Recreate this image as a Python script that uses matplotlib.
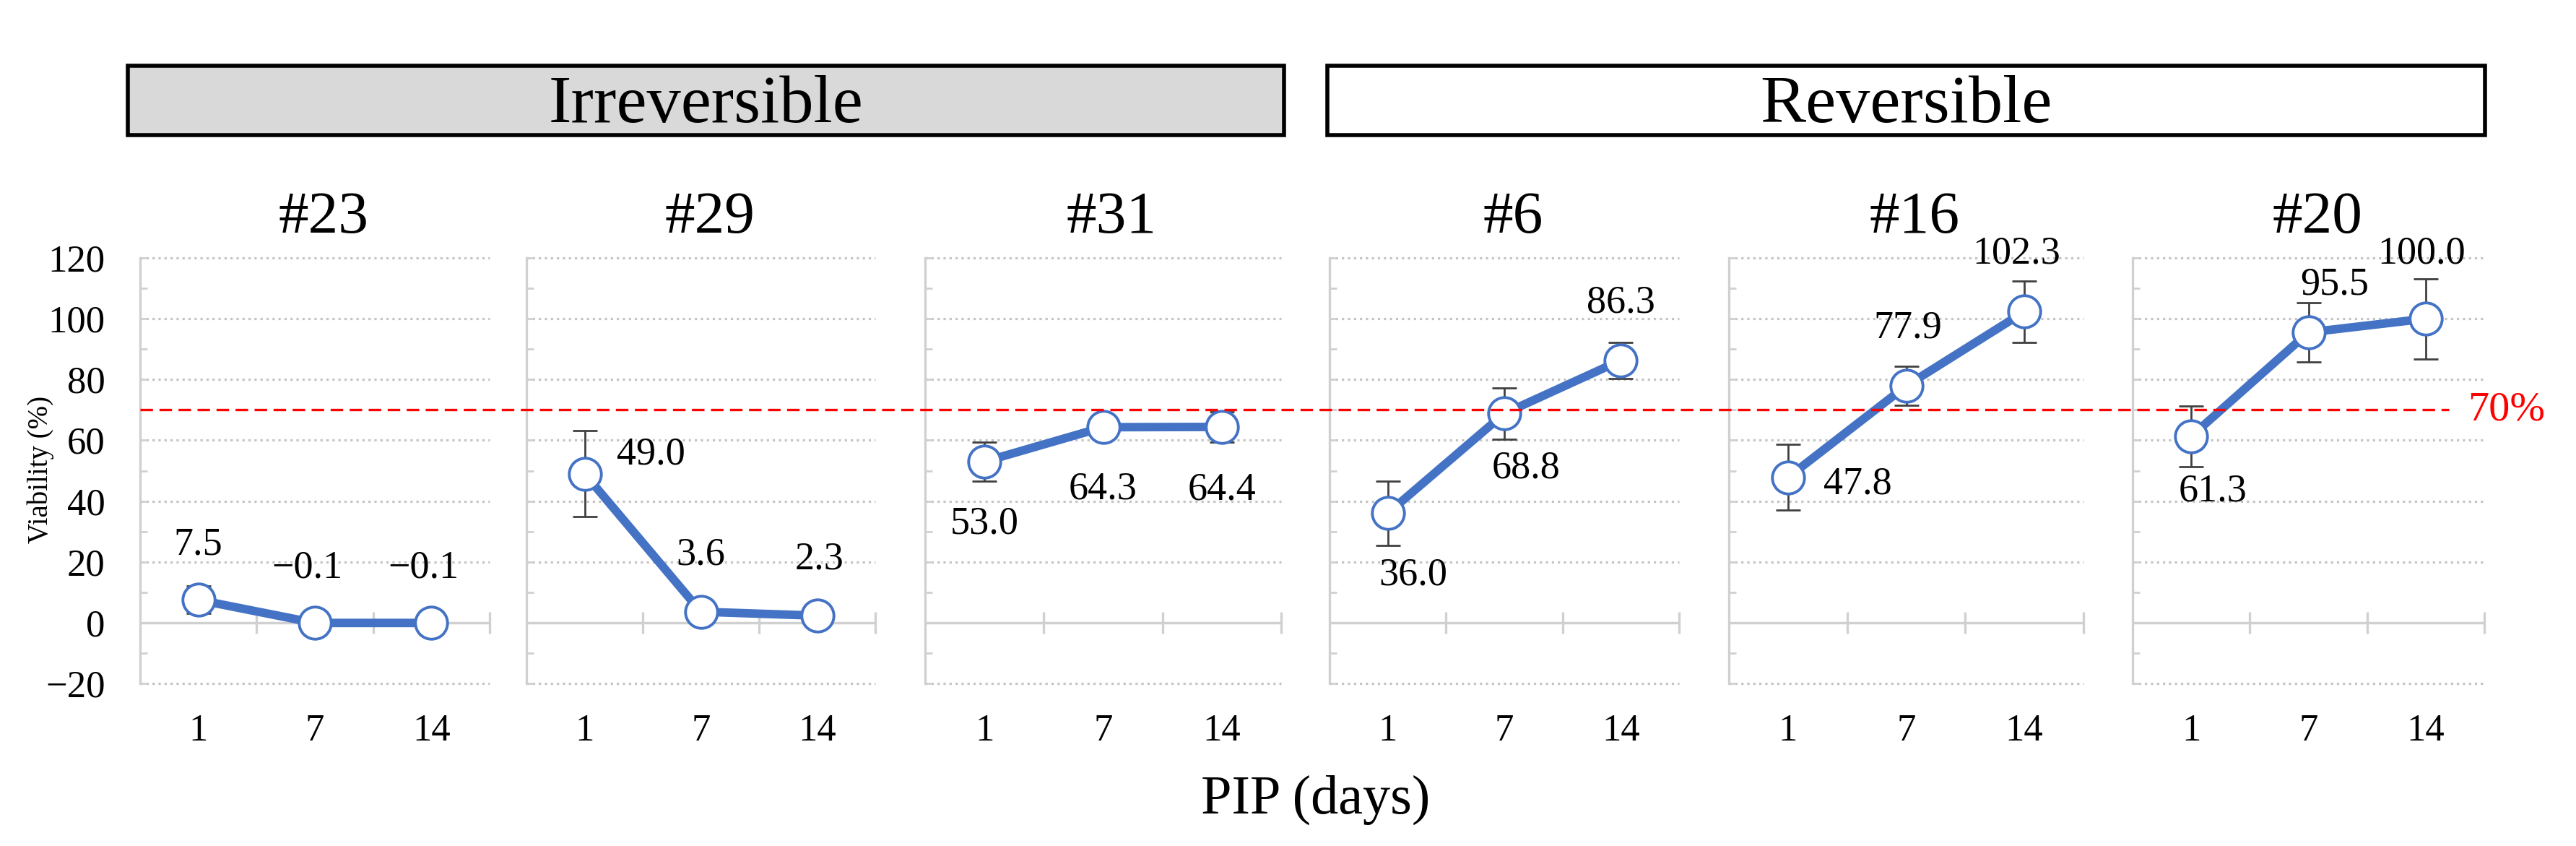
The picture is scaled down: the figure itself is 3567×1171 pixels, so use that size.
import matplotlib
matplotlib.use('Agg')
import matplotlib.pyplot as plt
import matplotlib.transforms as mtransforms
from matplotlib.patches import Rectangle
from matplotlib.lines import Line2D
import numpy as np

plt.rcParams['font.family'] = ['Liberation Serif', 'DejaVu Serif']

# ---------------- data ----------------
days = ['1', '7', '14']
panels = ['#23', '#29', '#31', '#6', '#16', '#20']
groups = ['Irreversible', 'Reversible']

v23 = [7.5, -0.1, -0.1]
v29 = [49.0, 3.6, 2.3]
v31 = [53.0, 64.3, 64.4]
v6 = [36.0, 68.8, 86.3]
v16 = [47.8, 77.9, 102.3]
v20 = [61.3, 95.5, 100.0]

sd23 = [4.5, 0.5, 0.5]
sd29 = [14.1, 1.0, 1.0]
sd31 = [6.4, 3.0, 5.0]
sd6 = [10.5, 8.4, 6.0]
sd16 = [10.8, 6.4, 10.0]
sd20 = [10.0, 9.8, 13.2]

values = [v23, v29, v31, v6, v16, v20]
errors = [sd23, sd29, sd31, sd6, sd16, sd20]

threshold = 70
threshold_label = '70%'
yticks = [-20, 0, 20, 40, 60, 80, 100, 120]
ylabel = 'Viability (%)'
xlabel = 'PIP (days)'

# ---------------- layout / style ----------------
W, H = 3567, 1171
fig = plt.figure(figsize=(W / 100, H / 100), dpi=100)


def fx(px):
    return px / W


def fy(py):
    return 1 - py / H


panel_px = [(194, 678), (729, 1212), (1281, 1774), (1841, 2325), (2394, 2885), (2953, 3440)]
top_px, bot_px = 357, 946

# data-label offsets (pixels, relative to marker centre)
label_off = [
    [(0, 76), (-11, 76), (-11, 76)],
    [(92, 26), (0, 78), (3, 78)],
    [(0, -86), (0, -86), (0, -87)],
    [(35, -86), (30, -76), (0, 80)],
    [(96, -9), (2, 80), (-11, 80)],
    [(30, -76), (36, 66), (-6, 90)],
]

blue = '#4472C4'
axis_col = '#d0d0d0'
grid_col = '#c4c4c4'
err_col = '#404040'

axes = []
for i, name in enumerate(panels):
    l, r = panel_px[i]
    ax = fig.add_axes([fx(l), fy(bot_px), (r - l) / W, (bot_px - top_px) / H])
    axes.append(ax)
    n = len(days)
    x = np.arange(n) + 0.5
    ax.set_xlim(0, n)
    ax.set_ylim(yticks[0], yticks[-1])

    # dotted grid lines at majors
    ax.hlines(yticks, 0, n, colors=grid_col, linestyles=(0, (1, 1.6)), lw=2.3,
              zorder=1, clip_on=False)
    # category axis crossing at 0
    ax.axhline(0, color=axis_col, lw=2.4, zorder=1.5)
    ax.plot(np.arange(1, n + 1), np.zeros(n), ls='none', marker='|', ms=22,
            mew=2.4, color=axis_col, zorder=1.5, clip_on=False)

    for s in ['top', 'right', 'bottom']:
        ax.spines[s].set_visible(False)
    ax.spines['left'].set_color(axis_col)
    ax.spines['left'].set_linewidth(2.4)

    ax.set_yticks(yticks)
    ax.set_yticks(np.arange(yticks[0] + 10, yticks[-1], 20), minor=True)
    ax.tick_params(axis='y', which='both', direction='in', length=7, width=2,
                   color=axis_col, labelsize=38, pad=35)
    if i > 0:
        ax.tick_params(axis='y', which='both', labelleft=False)

    ax.set_xticks(x)
    ax.set_xticklabels(days)
    ax.tick_params(axis='x', length=0, labelsize=38, pad=30)

    vals = values[i]
    ax.errorbar(x, vals, yerr=errors[i], fmt='none', ecolor=err_col,
                elinewidth=2.0, capsize=12, capthick=2.0, zorder=2)
    ax.plot(x, vals, color=blue, lw=8.5, marker='o', ms=32, mfc='white',
            mec=blue, mew=2.8, zorder=3, solid_capstyle='round')

    for j, v in enumerate(vals):
        txt = f'{v:.1f}'.replace('-', '\u2212')
        dx, dy = label_off[i][j]
        ax.annotate(txt, (x[j], v), xytext=(dx, dy), textcoords='offset pixels',
                    ha='center', va='center', fontsize=39, zorder=5)

    cx = (l + r) / 2 + 12
    fig.text(fx(cx), fy(322), name, ha='center', va='baseline', fontsize=60)

# threshold line across all panels
trans = mtransforms.blended_transform_factory(fig.transFigure, axes[0].transData)
fig.lines.append(Line2D([fx(194), fx(3391)], [threshold, threshold], transform=trans,
                        color='#ff0000', lw=2.4, ls=(0, (5.2, 2.7)), zorder=10))
fig.text(fx(3417), threshold, threshold_label, transform=trans, color='#ff0000',
         fontsize=42, ha='left', va='center')

# group header boxes
box_px = [(177, 1778), (1838, 3441)]
box_fill = ['#d9d9d9', 'white']
box_top, box_bot = 91, 187
for (l, r), g, fc in zip(box_px, groups, box_fill):
    fig.patches.append(Rectangle((fx(l), fy(box_bot)), (r - l) / W, (box_bot - box_top) / H,
                                 transform=fig.transFigure, facecolor=fc,
                                 edgecolor='black', lw=4))
    fig.text(fx((l + r) / 2), fy(169), g, ha='center', va='baseline', fontsize=68)

fig.text(fx(56), fy(650), ylabel, rotation=90, ha='center', va='center', fontsize=28)
fig.text(fx(1822), fy(1126), xlabel, ha='center', va='baseline', fontsize=55)

fig.savefig('out.png', dpi=100)
